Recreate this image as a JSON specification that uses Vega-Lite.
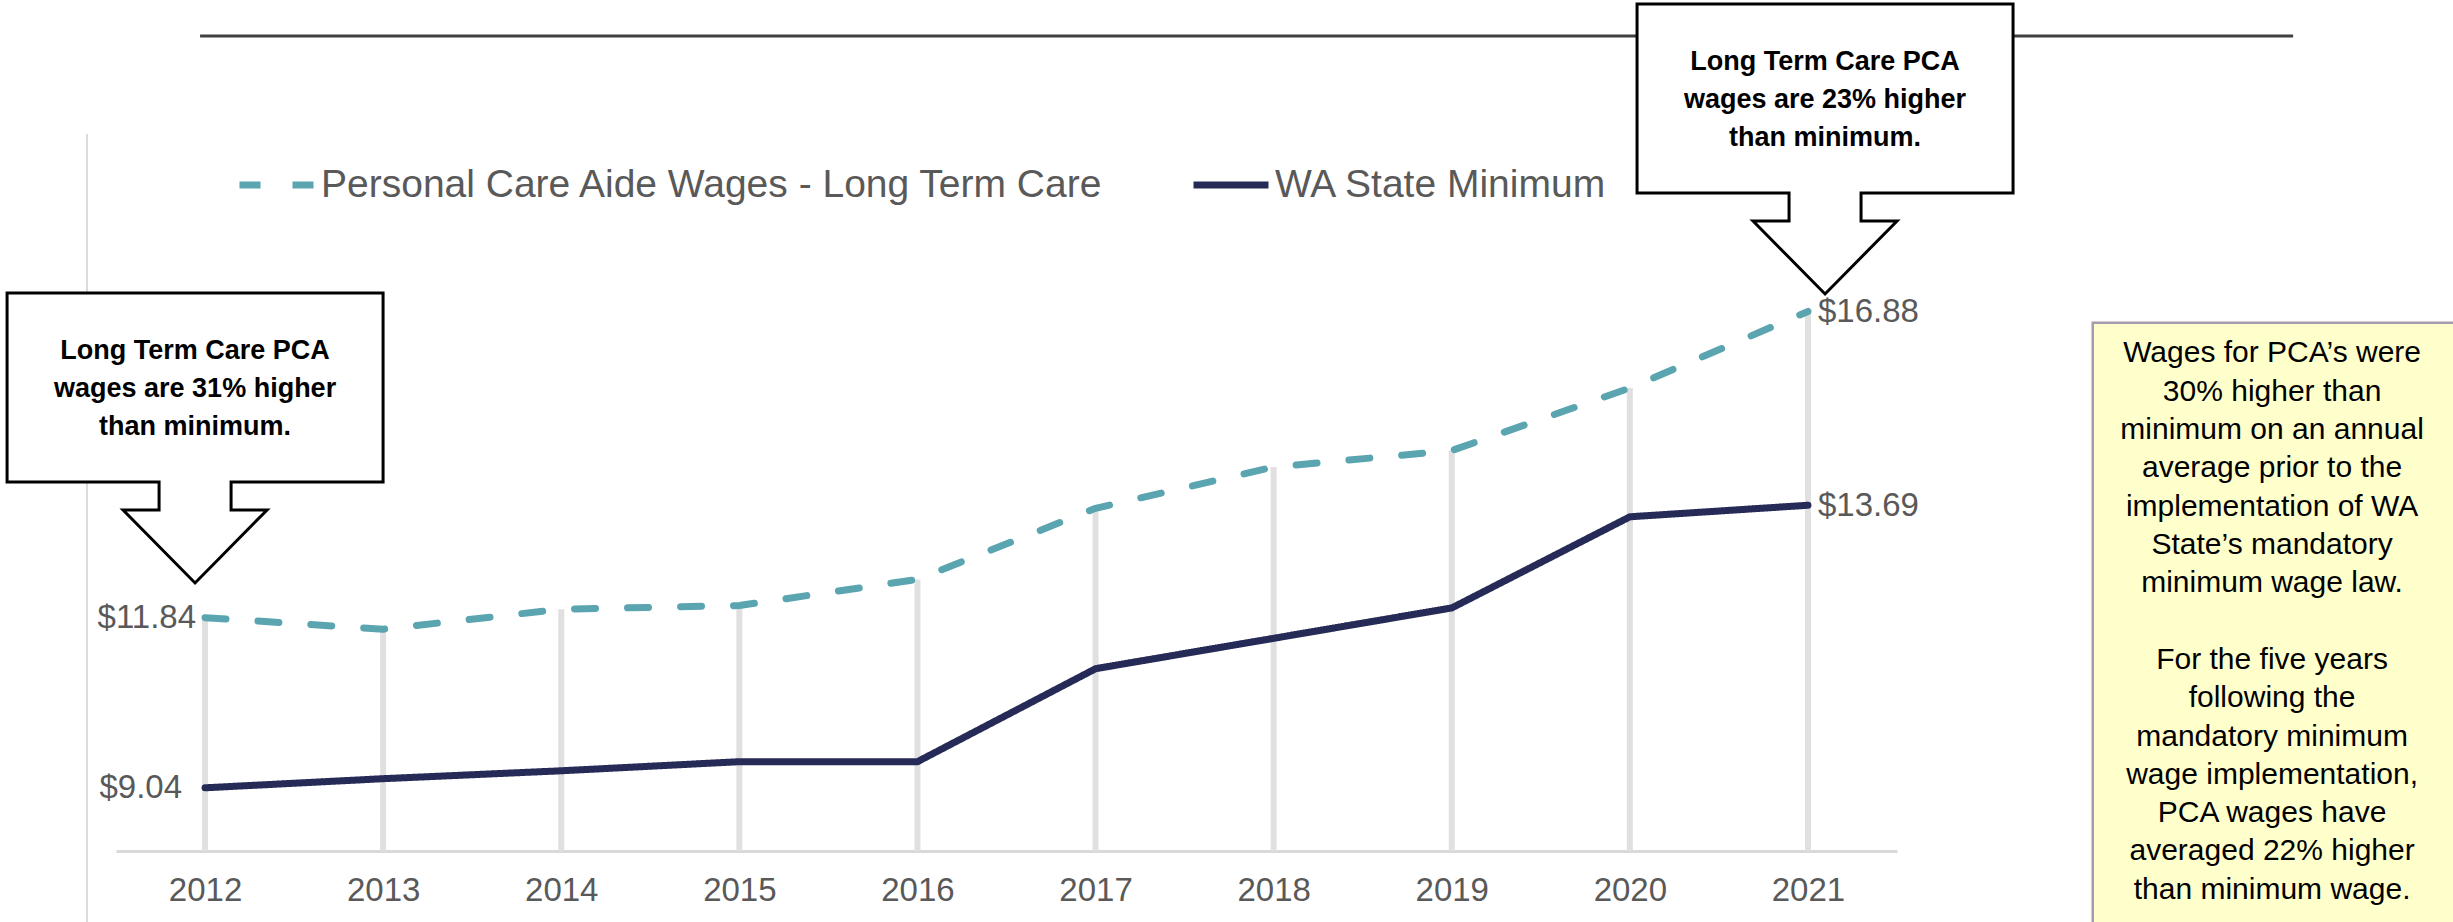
{
  "$schema": "https://vega.github.io/schema/vega-lite/v6.json",
  "width": 1781,
  "height": 717,
  "autosize": {"type": "none"},
  "padding": {"left": 116, "top": 134, "right": 556, "bottom": 71},
  "background": "white",
  "config": {"view": {"stroke": null}, "font": "Liberation Sans"},
  "datasets": {
    "wages": [
      {"year": 2012, "series": "Personal Care Aide Wages - Long Term Care", "wage": 11.84},
      {"year": 2013, "series": "Personal Care Aide Wages - Long Term Care", "wage": 11.65},
      {"year": 2014, "series": "Personal Care Aide Wages - Long Term Care", "wage": 11.98},
      {"year": 2015, "series": "Personal Care Aide Wages - Long Term Care", "wage": 12.04},
      {"year": 2016, "series": "Personal Care Aide Wages - Long Term Care", "wage": 12.47},
      {"year": 2017, "series": "Personal Care Aide Wages - Long Term Care", "wage": 13.64},
      {"year": 2018, "series": "Personal Care Aide Wages - Long Term Care", "wage": 14.32},
      {"year": 2019, "series": "Personal Care Aide Wages - Long Term Care", "wage": 14.59},
      {"year": 2020, "series": "Personal Care Aide Wages - Long Term Care", "wage": 15.62},
      {"year": 2021, "series": "Personal Care Aide Wages - Long Term Care", "wage": 16.88},
      {"year": 2012, "series": "WA State Minimum", "wage": 9.04},
      {"year": 2013, "series": "WA State Minimum", "wage": 9.19},
      {"year": 2014, "series": "WA State Minimum", "wage": 9.32},
      {"year": 2015, "series": "WA State Minimum", "wage": 9.47},
      {"year": 2016, "series": "WA State Minimum", "wage": 9.47},
      {"year": 2017, "series": "WA State Minimum", "wage": 11.0},
      {"year": 2018, "series": "WA State Minimum", "wage": 11.5},
      {"year": 2019, "series": "WA State Minimum", "wage": 12.0},
      {"year": 2020, "series": "WA State Minimum", "wage": 13.5},
      {"year": 2021, "series": "WA State Minimum", "wage": 13.69}
    ],
    "callouts": [
      {"x": 2011.944, "y": 12.411, "label": "Long Term Care PCA\nwages are 31% higher\nthan minimum."},
      {"x": 2021.096, "y": 17.167, "label": "Long Term Care PCA\nwages are 23% higher\nthan minimum."}
    ],
    "note": [
      {"x": 2023.606, "y": 16.188, "label": "Wages for PCA’s were\n30% higher than\nminimum on an annual\naverage prior to the\nimplementation of WA\nState’s mandatory\nminimum wage law."},
      {"x": 2023.606, "y": 11.144, "label": "For the five years\nfollowing the\nmandatory minimum\nwage implementation,\nPCA wages have\naveraged 22% higher\nthan minimum wage."}
    ]
  },
  "layer": [
    {
      "data": {"name": "wages"},
      "transform": [{"filter": "datum.series === 'Personal Care Aide Wages - Long Term Care'"}],
      "mark": {"type": "rule", "color": "#e0e0e0", "strokeWidth": 6},
      "encoding": {
        "x": {"field": "year", "type": "quantitative", "scale": {"domain": [2011.5, 2021.5], "nice": false, "zero": false},
          "axis": {"title": null, "values": [2012, 2013, 2014, 2015, 2016, 2017, 2018, 2019, 2020, 2021], "format": "d", "grid": false, "ticks": false, "tickSize": 0, "labelPadding": 23, "labelFontSize": 33, "labelColor": "#595959", "labelFont": "Liberation Sans", "domainColor": "#d9d9d9", "domainWidth": 3, "labelFlush": false}},
        "y": {"field": "wage", "type": "quantitative", "scale": {"domain": [8, 19.8], "nice": false, "zero": false}, "axis": null},
        "y2": {"datum": 8}
      }
    },
    {
      "data": {"values": [{}]},
      "mark": {"type": "rule", "color": "#d0d0d0", "strokeWidth": 1.5},
      "encoding": {
        "x": {"datum": 2011.337, "type": "quantitative"},
        "y": {"datum": 19.8, "type": "quantitative"},
        "y2": {"datum": 6.6}
      }
    },
    {
      "data": {"values": [{}]},
      "mark": {"type": "rule", "color": "#404040", "strokeWidth": 3},
      "encoding": {
        "x": {"datum": 2011.972, "type": "quantitative"},
        "x2": {"datum": 2023.724},
        "y": {"datum": 21.413, "type": "quantitative"}
      }
    },
    {
      "data": {"values": [{}]},
      "mark": {"type": "rect", "fill": "#FFFFCC", "stroke": "#A59BB0", "strokeWidth": 2.5},
      "encoding": {
        "x": {"datum": 2022.599, "type": "quantitative"},
        "x2": {"datum": 2024.8},
        "y": {"datum": 16.695, "type": "quantitative"},
        "y2": {"datum": 6.6}
      }
    },
    {
      "data": {"name": "note"},
      "mark": {"type": "text", "align": "center", "baseline": "middle", "fontSize": 30, "lineHeight": 38.3, "lineBreak": "\n", "color": "#000000", "font": "Liberation Sans"},
      "encoding": {
        "x": {"field": "x", "type": "quantitative"},
        "y": {"field": "y", "type": "quantitative"},
        "text": {"field": "label", "type": "nominal"}
      }
    },
    {
      "data": {"name": "wages"},
      "mark": {"type": "line", "strokeWidth": 7, "strokeCap": "round", "strokeJoin": "round"},
      "encoding": {
        "x": {"field": "year", "type": "quantitative"},
        "y": {"field": "wage", "type": "quantitative"},
        "color": {"field": "series", "type": "nominal",
          "scale": {"domain": ["Personal Care Aide Wages - Long Term Care", "WA State Minimum"], "range": ["#5AA5B0", "#262A56"]},
          "legend": {"title": null, "orient": "none", "legendX": 120, "legendY": 10, "direction": "horizontal", "symbolType": "stroke", "symbolSize": 5625, "symbolStrokeWidth": 7, "labelFontSize": 39, "labelColor": "#595959", "labelFont": "Liberation Sans", "labelLimit": 2000, "labelOffset": 3, "columnPadding": 74, "padding": 0, "symbolOffset": 0}},
        "strokeDash": {"field": "series", "type": "nominal",
          "scale": {"domain": ["Personal Care Aide Wages - Long Term Care", "WA State Minimum"], "range": [[21, 32], [1, 0]]},
          "legend": {"title": null}}
      }
    },
    {
      "data": {"name": "wages"},
      "transform": [{"filter": "datum.year === 2012 && datum.series === 'Personal Care Aide Wages - Long Term Care'"}],
      "mark": {"type": "text", "align": "right", "baseline": "middle", "dx": -9, "fontSize": 33, "color": "#595959", "font": "Liberation Sans"},
      "encoding": {
        "x": {"field": "year", "type": "quantitative"},
        "y": {"field": "wage", "type": "quantitative"},
        "text": {"field": "wage", "type": "quantitative", "format": "$.2f"}
      }
    },
    {
      "data": {"name": "wages"},
      "transform": [{"filter": "datum.year === 2012 && datum.series === 'WA State Minimum'"}],
      "mark": {"type": "text", "align": "right", "baseline": "middle", "dx": -23, "fontSize": 33, "color": "#595959", "font": "Liberation Sans"},
      "encoding": {
        "x": {"field": "year", "type": "quantitative"},
        "y": {"field": "wage", "type": "quantitative"},
        "text": {"field": "wage", "type": "quantitative", "format": "$.2f"}
      }
    },
    {
      "data": {"name": "wages"},
      "transform": [{"filter": "datum.year === 2021"}],
      "mark": {"type": "text", "align": "left", "baseline": "middle", "dx": 10, "dy": 1, "fontSize": 33, "color": "#595959", "font": "Liberation Sans"},
      "encoding": {
        "x": {"field": "year", "type": "quantitative"},
        "y": {"field": "wage", "type": "quantitative"},
        "text": {"field": "wage", "type": "quantitative", "format": "$.2f"}
      }
    },
    {
      "data": {"name": "callouts"},
      "mark": {"type": "point", "shape": "M -1.88 -2.9 L 1.88 -2.9 L 1.88 -1.01 L 0.36 -1.01 L 0.36 -0.73 L 0.72 -0.73 L 0 0 L -0.72 -0.73 L -0.36 -0.73 L -0.36 -1.01 L -1.88 -1.01 Z", "size": 40000, "filled": true, "fill": "#ffffff", "stroke": "#000000", "strokeWidth": 3, "opacity": 1, "fillOpacity": 1, "strokeJoin": "miter"},
      "encoding": {
        "x": {"field": "x", "type": "quantitative"},
        "y": {"field": "y", "type": "quantitative"}
      }
    },
    {
      "data": {"name": "callouts"},
      "mark": {"type": "text", "align": "center", "baseline": "middle", "dy": -232, "fontSize": 27, "fontWeight": "bold", "lineHeight": 38, "lineBreak": "\n", "color": "#000000", "font": "Liberation Sans"},
      "encoding": {
        "x": {"field": "x", "type": "quantitative"},
        "y": {"field": "y", "type": "quantitative"},
        "text": {"field": "label", "type": "nominal"}
      }
    }
  ]
}
